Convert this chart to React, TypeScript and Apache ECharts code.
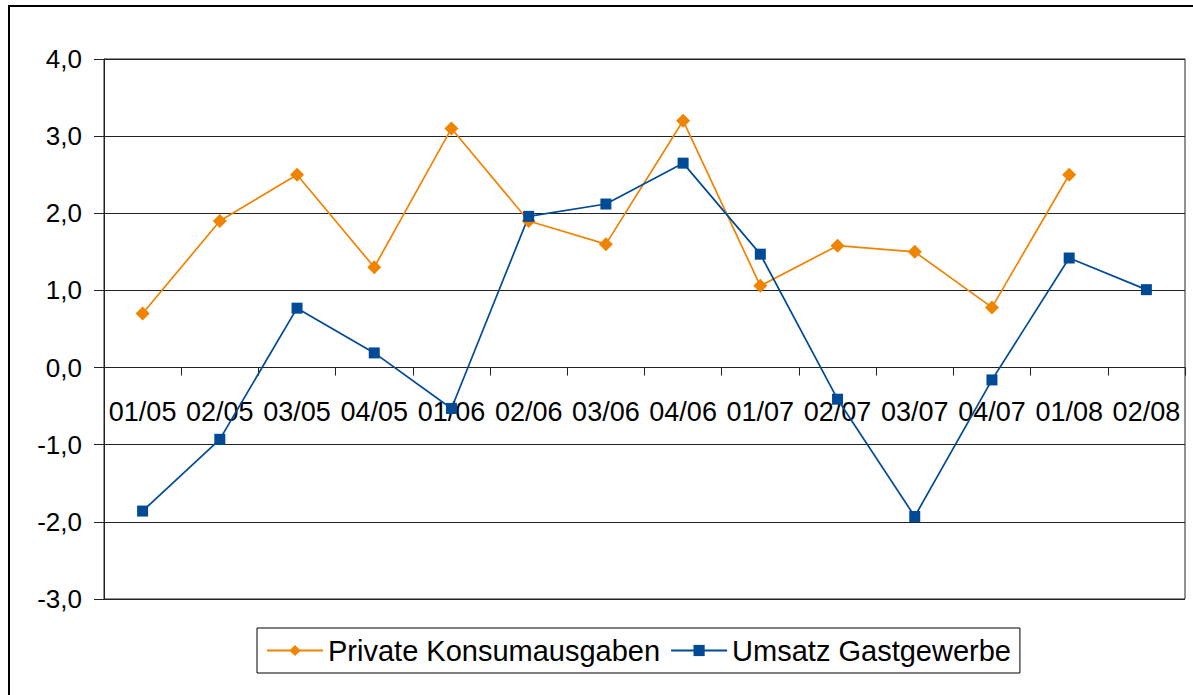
import React, { useEffect, useRef } from "react";
import * as echarts from "echarts";

const categories = ["01/05", "02/05", "03/05", "04/05", "01/06", "02/06", "03/06", "04/06", "01/07", "02/07", "03/07", "04/07", "01/08", "02/08"];
const privateKonsum = [0.7, 1.9, 2.5, 1.3, 3.1, 1.9, 1.6, 3.2, 1.06, 1.58, 1.5, 0.78, 2.5, null];
const umsatzGast = [-1.86, -0.93, 0.77, 0.19, -0.53, 1.96, 2.12, 2.65, 1.47, -0.41, -1.93, -0.16, 1.42, 1.01];
const seriesNames = ["Private Konsumausgaben", "Umsatz Gastgewerbe"];
const yMin = -3;
const yMax = 4;
const yStep = 1;

const FONT = "'Liberation Sans', Arial, sans-serif";

export default function App() {
  const ref = useRef<HTMLDivElement>(null);
  useEffect(() => {
    if (!ref.current) return;
    const chart = echarts.init(ref.current, null, { renderer: "svg" });
    chart.setOption({
      animation: false,
      backgroundColor: "#ffffff",
      textStyle: { fontFamily: FONT, color: "#000" },
      graphic: [
        {
          type: "rect",
          shape: { x: 9, y: 6, width: 1200, height: 720 },
          style: { fill: "none", stroke: "#000", lineWidth: 2 },
          silent: true,
        },
      ],
      grid: {
        left: 104,
        top: 59,
        width: 1081,
        height: 540,
        show: true,
        borderColor: "#222",
        borderWidth: 1,
        backgroundColor: "transparent",
      },
      legend: {
        data: seriesNames,
        left: 257,
        top: 628,
        orient: "horizontal",
        itemWidth: 56,
        itemHeight: 14,
        itemGap: 10,
        borderColor: "#000",
        borderWidth: 1,
        padding: [8, 9],
        textStyle: { fontSize: 29, fontFamily: FONT, color: "#000" },
      },
      xAxis: [
        {
          type: "category",
          data: categories,
          boundaryGap: true,
          axisLine: { onZero: true, lineStyle: { color: "#222", width: 1 } },
          axisTick: { show: true, length: 8, interval: 0, lineStyle: { color: "#222" } },
          axisLabel: { show: false },
          splitLine: { show: false },
        },
        {
          type: "category",
          data: categories,
          boundaryGap: true,
          position: "bottom",
          offset: -231,
          axisLine: { show: false, onZero: false },
          axisTick: { show: false },
          axisLabel: { interval: 0, fontSize: 27, margin: 30, color: "#000", fontFamily: FONT },
          splitLine: { show: false },
        },
      ],
      yAxis: {
        type: "value",
        min: yMin,
        max: yMax,
        interval: yStep,
        axisLine: { show: true, lineStyle: { color: "#222", width: 1 } },
        axisTick: { show: true, length: 10, lineStyle: { color: "#222" } },
        axisLabel: {
          fontSize: 26,
          margin: 22,
          color: "#000",
          fontFamily: FONT,
          formatter: (v: number) => v.toFixed(1).replace(".", ","),
        },
        splitLine: { show: true, lineStyle: { color: "#222", width: 1 } },
      },
      series: [
        {
          name: seriesNames[0],
          type: "line",
          data: privateKonsum,
          color: "#F08300",
          symbol: "diamond",
          symbolSize: 14,
          lineStyle: { color: "#F08300", width: 1.7 },
          itemStyle: { color: "#F08300" },
          connectNulls: false,
        },
        {
          name: seriesNames[1],
          type: "line",
          data: umsatzGast,
          color: "#004A96",
          symbol: "rect",
          symbolSize: 11,
          lineStyle: { color: "#004A96", width: 1.7 },
          itemStyle: { color: "#004A96" },
        },
      ],
    });
    return () => chart.dispose();
  }, []);
  return (
    <div
      ref={ref}
      style={{ position: "absolute", left: 0, top: 0, width: 1193, height: 695 }}
    />
  );
}
